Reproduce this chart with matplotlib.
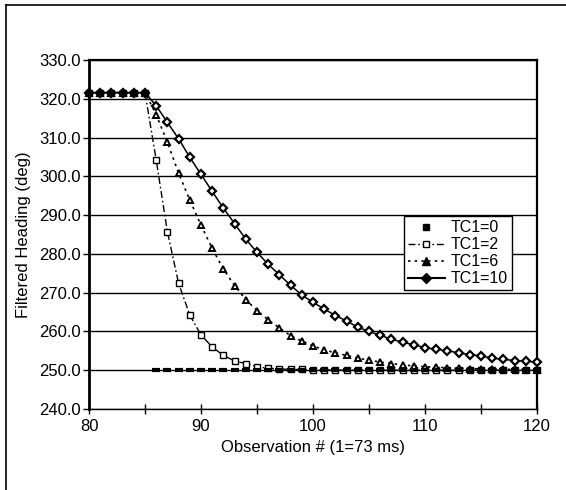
import matplotlib
matplotlib.use("Agg")
import matplotlib.pyplot as plt
from matplotlib.lines import Line2D

plt.rcParams['font.family'] = ['Liberation Sans', 'DejaVu Sans']

obs = list(range(80, 121))
flat = [321.6] * 6

tc0 = flat + [250.0] * 35
tc2 = flat + [304.2, 285.7, 272.4, 264.2, 259.1, 256.0, 253.8, 252.4, 251.7, 250.9,
              250.5, 250.35, 250.2, 250.2, 250.1, 250.1, 250.05, 250.0, 250.0, 250.0,
              250.0, 250.0, 250.0, 250.0, 250.0, 250.0, 250.0, 250.0, 250.0, 250.0,
              250.0, 250.0, 250.0, 250.0, 250.0]
tc6 = flat + [315.9, 308.8, 300.8, 293.9, 287.4, 281.4, 276.1, 271.8, 268.2, 265.4,
              263.0, 260.9, 258.9, 257.5, 256.3, 255.2, 254.5, 253.8, 253.1, 252.6,
              252.1, 251.7, 251.4, 251.1, 250.9, 250.8, 250.6, 250.5, 250.4, 250.35,
              250.3, 250.25, 250.2, 250.15, 250.1]
tc10 = flat + [318.2, 313.9, 309.7, 304.9, 300.5, 296.1, 291.8, 287.8, 283.8, 280.4,
               277.3, 274.6, 271.9, 269.4, 267.5, 265.8, 264.1, 262.7, 261.1, 260.0,
               259.0, 258.0, 257.2, 256.6, 255.8, 255.4, 255.0, 254.5, 254.0, 253.7,
               253.1, 252.8, 252.5, 252.3, 252.1]

yticks = [240, 250, 260, 270, 280, 290, 300, 310, 320, 330]
xticks = [80, 90, 100, 110, 120]
labels = ["TC1=0", "TC1=2", "TC1=6", "TC1=10"]

W, H = 566, 490
fig = plt.figure(figsize=(W / 100, H / 100), dpi=100)
L, R, T, B = 89, 537, 60, 409
ax = fig.add_axes([L / W, 1 - B / H, (R - L) / W, (B - T) / H])

dashdot = (0, (5, 2, 1.2, 2))
dotted = (0, (1.5, 2.5))

ax.plot(obs, tc0, linestyle='none', marker='_', markersize=6, markeredgewidth=3,
        color='black', label=labels[0], zorder=5, clip_on=False)
ax.plot(obs, tc2, linestyle=dashdot, lw=1, color='black', marker='s',
        markersize=4, markerfacecolor='white', markeredgecolor='black',
        markeredgewidth=1, label=labels[1], zorder=4, clip_on=False)
ax.plot(obs, tc6, linestyle=dotted, lw=1.2, color='black', marker='^',
        markersize=5, markerfacecolor='white', markeredgecolor='black',
        markeredgewidth=1.4, label=labels[2], zorder=4, clip_on=False)
ax.plot(obs, tc10, linestyle='-', lw=1.1, color='black', marker='D',
        markersize=4, markerfacecolor='white', markeredgecolor='black',
        markeredgewidth=1.6, label=labels[3], zorder=3, clip_on=False)

ax.set_xlim(80, 120)
ax.set_ylim(240, 330)
ax.set_yticks(yticks)
ax.set_yticklabels([f"{v:.1f}" for v in yticks])
ax.set_xticks(xticks)
ax.set_xticks([85, 95, 105, 115], minor=True)
ax.tick_params(axis='y', direction='out', length=4, width=1, labelsize=12, pad=2)
ax.tick_params(axis='x', which='both', direction='inout', length=7, width=1,
               labelsize=12, pad=4)
ax.yaxis.grid(True, color='black', lw=1)
ax.set_axisbelow(True)

for side, lw in (('left', 2), ('right', 1.6), ('top', 1.6), ('bottom', 1)):
    ax.spines[side].set_linewidth(lw)
    ax.spines[side].set_color('black')

ax.set_xlabel("Observation # (1=73 ms)", fontsize=12, labelpad=4)
ax.set_ylabel("Filtered Heading (deg)", fontsize=12, labelpad=6)

handles = [
    Line2D([], [], linestyle='none', marker='s', markersize=4, color='black'),
    Line2D([], [], linestyle=dashdot, lw=1, color='black', marker='s',
           markersize=5, markerfacecolor='white', markeredgecolor='black'),
    Line2D([], [], linestyle=dotted, lw=1.2, color='black', marker='^', markersize=6),
    Line2D([], [], linestyle='-', lw=1.5, color='black', marker='D', markersize=5),
]
leg = ax.legend(handles, labels, loc='upper left', bbox_to_anchor=(0.703, 0.552),
                borderaxespad=0, fontsize=11.5, frameon=True, fancybox=False,
                edgecolor='black', framealpha=1, handlelength=2.3, handletextpad=0.4,
                labelspacing=0.12, borderpad=0.25)
leg.get_frame().set_linewidth(1)
leg.set_zorder(10)

fig.add_artist(Line2D([6 / W, 6 / W], [0, 1 - 5 / H], color='black', lw=1.2))
fig.add_artist(Line2D([6 / W, 1], [1 - 5 / H, 1 - 5 / H], color='black', lw=1.2))

fig.savefig("out.png", dpi=100)
